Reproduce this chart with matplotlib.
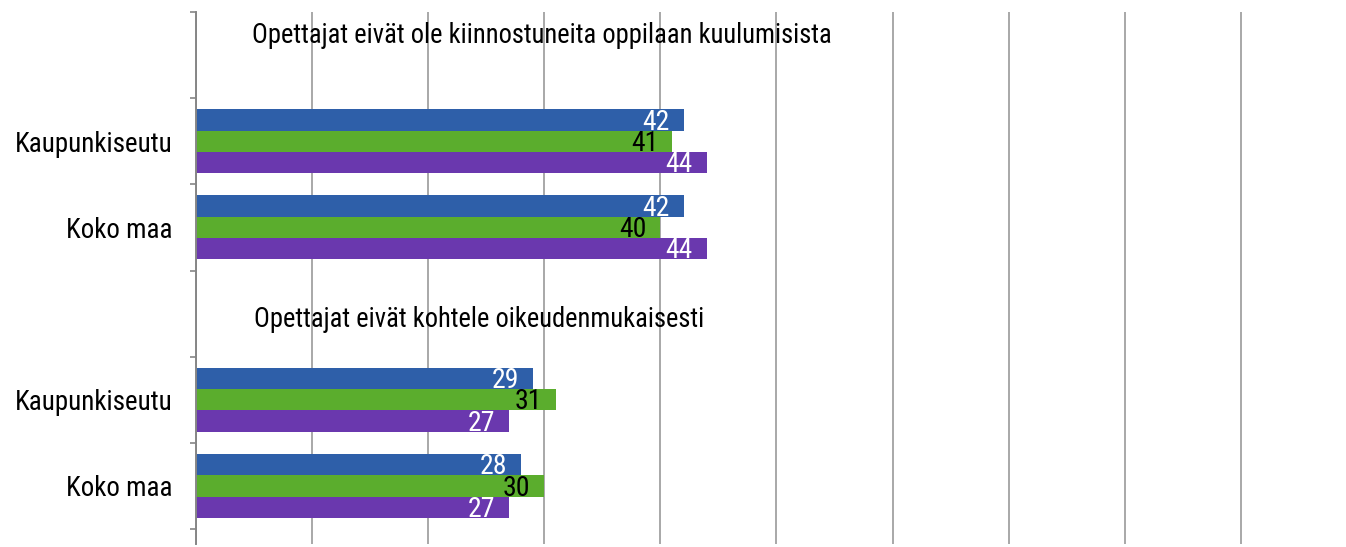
import numpy as np
import matplotlib
matplotlib.use("Agg")
import matplotlib.pyplot as plt
from matplotlib import font_manager
from matplotlib.font_manager import FontProperties

# data
group_titles = ["Opettajat eivät ole kiinnostuneita oppilaan kuulumisista",
                "Opettajat eivät kohtele oikeudenmukaisesti"]
categories = ["Kaupunkiseutu", "Koko maa", "Kaupunkiseutu", "Koko maa"]
blue_vals = [42, 42, 29, 28]
green_vals = [41, 40, 31, 30]
purple_vals = [44, 44, 27, 27]

series = [blue_vals, green_vals, purple_vals]
colors = ["#2e5fa9", "#5bad2d", "#6a38ae"]
label_colors = ["white", "black", "white"]

# the source text is a narrow Arial; use a condensed face if one is installed
files = [f.fname for f in font_manager.fontManager.ttflist]
fpath = None
for key in ["LiberationSansNarrow-Regular", "RobotoCondensed-Regular",
            "NotoSans-Condensed.", "NotoSansCondensed-Regular", "DejaVuSansCondensed."]:
    hits = [p for p in files if key in p]
    if hits:
        fpath = hits[0]
        break
if fpath is None:
    base = FontProperties(family="Liberation Sans")
else:
    base = FontProperties(fname=fpath)

fig = plt.figure(figsize=(13.46, 5.47), dpi=100)
W, H = 1346, 547
renderer = fig.canvas.get_renderer()


def size_for(text, target_px):
    # font size that makes text about target_px wide
    fp = base.copy()
    fp.set_size(10)
    t = fig.text(0, 0, text, fontproperties=fp)
    w = t.get_window_extent(renderer).width
    t.remove()
    return 10 * target_px / w


def fp_of(size):
    fp = base.copy()
    fp.set_size(size)
    return fp


fs_cat = size_for("Kaupunkiseutu", 157)
fs_title = size_for(group_titles[1], 446)
fs_val = size_for("44", 27)

ax = fig.add_axes([196 / W, 1 - 544 / H, 1 - 196 / W, (544 - 12) / H])

# slots 0 and 3 hold the group titles, the others the categories
cat_pos = np.array([1, 2, 4, 5])
bar_h = 0.247
offsets = [-bar_h, 0, bar_h]

for vals, col, lcol, off in zip(series, colors, label_colors, offsets):
    y = cat_pos + off
    ax.barh(y, vals, height=bar_h, color=col, zorder=2)
    for yy, v in zip(y, vals):
        ax.annotate(str(v), (v, yy), xytext=(-10, -1.5), textcoords="offset points",
                    ha="right", va="center", color=lcol,
                    fontproperties=fp_of(fs_val), zorder=3)

ax.text(29.8, -0.23, group_titles[0], ha="center", va="center", fontproperties=fp_of(fs_title))
ax.text(24.4, 3.07, group_titles[1], ha="center", va="center", fontproperties=fp_of(fs_title))

ax.set_xlim(0, (W - 196) / 11.61)
ax.set_ylim(5.5 + 15 / 86.2, -0.5)

ax.set_xticks(np.arange(0, 100, 10))
ax.tick_params(axis="x", length=0, labelbottom=False)
ax.grid(axis="x", color="#a8a8a8", linewidth=1.4)
ax.set_axisbelow(True)

ax.set_yticks(cat_pos)
ax.set_yticklabels(categories)
for lbl in ax.get_yticklabels():
    lbl.set_fontproperties(fp_of(fs_cat))
ax.tick_params(axis="y", which="major", length=0, pad=17)
ax.set_yticks(np.arange(-0.5, 6, 1), minor=True)
ax.tick_params(axis="y", which="minor", length=4.5, width=1.2, color="#868686")

for s in ["top", "right", "bottom"]:
    ax.spines[s].set_visible(False)
ax.spines["left"].set_color("#868686")
ax.spines["left"].set_linewidth(1.4)

fig.savefig("out.png", dpi=100)
